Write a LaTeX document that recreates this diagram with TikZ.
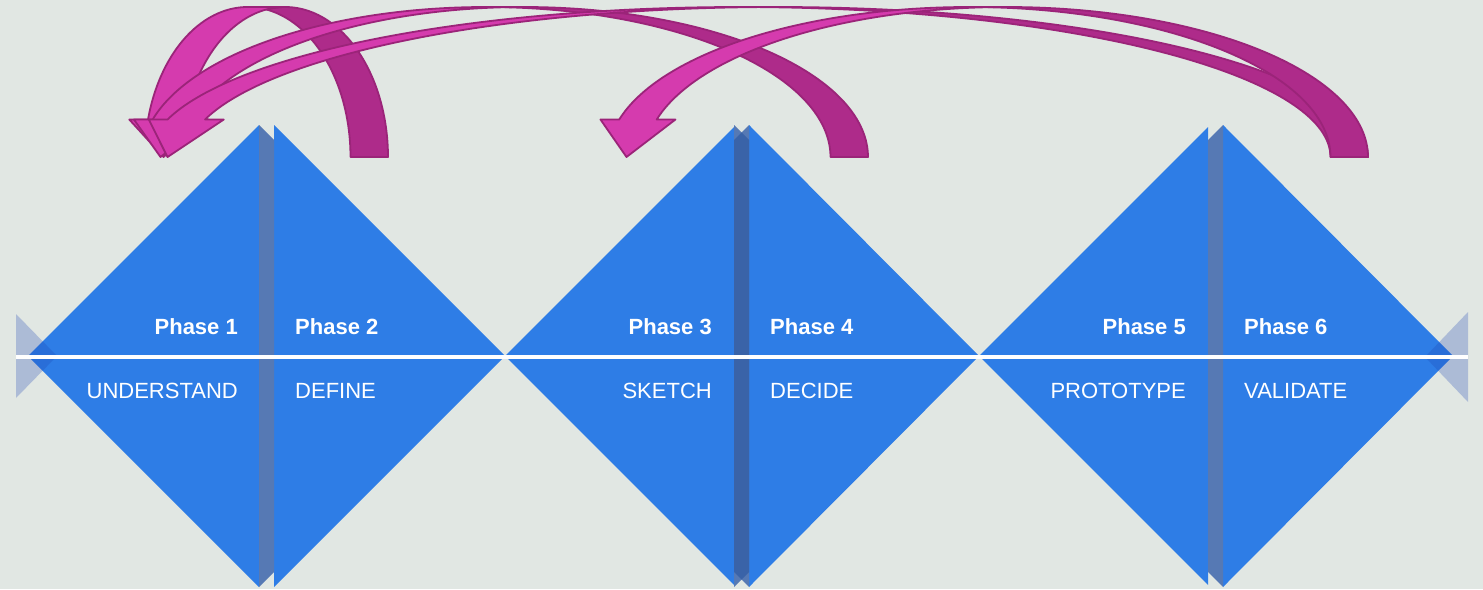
\documentclass[tikz,border=0pt]{standalone}
\usepackage{fontspec}
\setmainfont{Liberation Sans}
\definecolor{bgc}{HTML}{E1E7E3}
\definecolor{dblue}{HTML}{2E7DE6}
\definecolor{stripa}{HTML}{5679B4}
\definecolor{stripb}{HTML}{3A63A8}
\definecolor{sidec}{HTML}{1E46B4}
\definecolor{magf}{HTML}{D53BAE}
\definecolor{magb}{HTML}{AE2B8A}
\definecolor{mago}{HTML}{9B2479}
\tikzset{
  blueface/.style={fill=dblue},
  stripface/.style={fill=stripa},
  stripdark/.style={fill=stripb},
  sidetri/.style={fill=sidec, fill opacity=0.27},
  midline/.style={draw=white, line width=4pt},
  backpart/.style={fill=magb, draw=mago, line width=1.8pt, line join=round},
  frontpart/.style={fill=magf, draw=mago, line width=1.8pt, line join=round},
  phaselbl/.style={text=white, font=\fontsize{22}{26}\selectfont\bfseries, inner sep=0pt},
  steplbl/.style={text=white, font=\fontsize{22}{26}\selectfont, inner sep=0pt}
}
% curved down arrow, flipped: #1 = right edge of tail, #2 = total width
\newcommand\magarrow[2]{%
  \pgfmathsetmacro\arWR{#2/2-28.125}%
  \pgfmathsetmacro\arCL{#1-\arWR}%
  \pgfmathsetmacro\arCR{#1-\arWR-37.5}%
  \pgfmathsetmacro\arPL{acos(-18.75/\arWR)}%
  \pgfmathsetmacro\arPR{acos(18.75/\arWR)}%
  \pgfmathsetmacro\arDX{\arWR*0.968246}%
  \pgfmathsetmacro\arTip{#1-#2+37.5}%
  \filldraw[backpart] plot[domain=0:\arPL,samples=70] ({\arCL+\arWR*cos(\x)},{157-150*sin(\x)})
     -- plot[domain=\arPR:0,samples=70] ({\arCR+\arWR*cos(\x)},{157-150*sin(\x)}) -- cycle;
  \filldraw[frontpart] (\arTip,157) -- (\arCL-\arDX+18.75,119.5)
     -- plot[domain=165.5225:90,samples=70] ({\arCL+\arWR*cos(\x)},{157-150*sin(\x)})
     -- plot[domain=90:165.5225,samples=70] ({\arCR+\arWR*cos(\x)},{157-150*sin(\x)})
     -- (\arCR-\arDX-18.75,119.5) -- cycle;
}
\begin{document}
\begin{tikzpicture}[x=1pt,y=-1pt]
\fill[bgc] (0,0) rectangle (1483,589);
\useasboundingbox (0,0) rectangle (1483,589);
% diamond 1
\fill[blueface] (28,356) -- (259,125) -- (259,587) -- cycle;
\fill[blueface] (274,125) -- (274,587) -- (505,356) -- cycle;
\fill[stripface] (259,125) -- (274,140) -- (274,572) -- (259,587) -- cycle;
% diamond 2
\fill[blueface] (505,356) -- (734,127) -- (734,585) -- cycle;
\fill[blueface] (749,125) -- (749,587) -- (979,356) -- cycle;
\fill[stripface] (734,125) -- (741.5,132.5) -- (749,125) -- (749,587) -- (741.5,579.5) -- (734,587) -- cycle;
\fill[stripdark] (734,140) -- (741.5,132.5) -- (749,140) -- (749,572) -- (741.5,579.5) -- (734,572) -- cycle;
% diamond 3
\fill[blueface] (979,356) -- (1208,127) -- (1208,585) -- cycle;
\fill[blueface] (1223,125) -- (1223,587) -- (1453,356) -- cycle;
\fill[stripface] (1208,140) -- (1223,125) -- (1223,587) -- (1208,572) -- cycle;
% side triangles
\fill[sidetri] (16,314) -- (16,398) -- (57,356) -- cycle;
\fill[sidetri] (1468,312) -- (1468,402) -- (1425,357) -- cycle;
% white line
\draw[midline] (16,357) -- (1468,357);
% labels
\node[phaselbl, anchor=base east] (p1) at (238,334) {Phase 1};
\node[phaselbl, anchor=base west] (p2) at (295,334) {Phase 2};
\node[phaselbl, anchor=base east] (p3) at (712,334) {Phase 3};
\node[phaselbl, anchor=base west] (p4) at (770,334) {Phase 4};
\node[phaselbl, anchor=base east] (p5) at (1186,334) {Phase 5};
\node[phaselbl, anchor=base west] (p6) at (1244,334) {Phase 6};
\node[steplbl, anchor=base east] (s1) at (238,398) {UNDERSTAND};
\node[steplbl, anchor=base west] (s2) at (295,398) {DEFINE};
\node[steplbl, anchor=base east] (s3) at (712,398) {SKETCH};
\node[steplbl, anchor=base west] (s4) at (770,398) {DECIDE};
\node[steplbl, anchor=base east] (s5) at (1186,398) {PROTOTYPE};
\node[steplbl, anchor=base west] (s6) at (1244,398) {VALIDATE};
% arrows
\magarrow{388}{262}
\magarrow{868}{745}
\magarrow{1368}{1238}
\magarrow{1368}{779}
\end{tikzpicture}
\end{document}
